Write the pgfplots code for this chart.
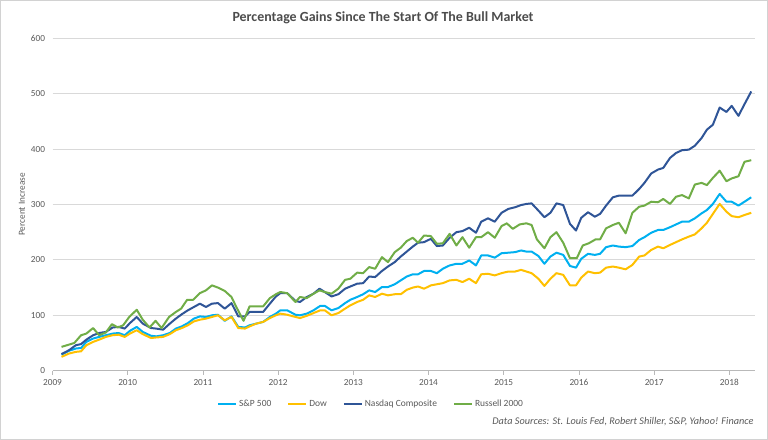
\documentclass[border=0pt]{standalone}
\usepackage{pgfplots}
\pgfplotsset{compat=1.18}
\usepackage{pgfplotstable}
\usepackage{fontspec}
\setmainfont{Carlito}
\definecolor{spc}{HTML}{00B0F0}
\definecolor{dowc}{HTML}{FFC000}
\definecolor{nasc}{HTML}{2F5597}
\definecolor{rusc}{HTML}{70AD47}
\definecolor{txt}{HTML}{595959}
\definecolor{gridc}{HTML}{D9D9D9}
\pgfplotstableread{
x y
2009.12 29
2009.22 36
2009.31 40
2009.38 41
2009.45 52
2009.54 58
2009.62 61
2009.71 64
2009.80 67
2009.88 68
2009.96 64
2010.03 72
2010.12 79
2010.20 70
2010.31 63
2010.38 62
2010.47 64
2010.56 68
2010.64 76
2010.72 80
2010.80 86
2010.88 94
2010.96 98
2011.04 97
2011.12 100
2011.20 101
2011.29 90
2011.38 98
2011.47 79
2011.56 78
2011.62 82
2011.71 85
2011.80 88
2011.89 97
2011.97 103
2012.03 109
2012.12 109
2012.23 101
2012.29 100
2012.38 103
2012.47 109
2012.56 117
2012.62 117
2012.71 109
2012.80 113
2012.89 122
2012.96 128
2013.05 133
2013.13 138
2013.21 145
2013.29 142
2013.38 151
2013.46 151
2013.55 156
2013.63 163
2013.71 170
2013.79 174
2013.86 174
2013.94 180
2014.03 180
2014.11 176
2014.19 184
2014.28 190
2014.37 193
2014.45 193
2014.54 199
2014.63 190
2014.70 208
2014.79 208
2014.88 204
2014.97 212
2015.06 213
2015.15 214
2015.23 217
2015.30 215
2015.37 215
2015.46 207
2015.54 193
2015.62 206
2015.70 213
2015.79 209
2015.88 189
2015.96 186
2016.03 202
2016.12 211
2016.21 209
2016.28 211
2016.36 223
2016.45 226
2016.53 224
2016.62 223
2016.71 225
2016.80 236
2016.87 241
2016.96 249
2017.05 254
2017.12 254
2017.21 259
2017.29 264
2017.37 269
2017.46 269
2017.54 275
2017.63 284
2017.70 290
2017.78 301
2017.87 319
2017.96 305
2018.03 305
2018.12 298
2018.20 305
2018.29 313
}\spdata
\pgfplotstableread{
x y
2009.12 25
2009.22 31
2009.31 34
2009.38 35
2009.45 46
2009.54 52
2009.62 56
2009.71 61
2009.80 64
2009.88 65
2009.96 61
2010.03 67
2010.12 73
2010.20 66
2010.31 59
2010.38 60
2010.47 61
2010.56 66
2010.64 73
2010.72 77
2010.80 82
2010.88 89
2010.96 92
2011.04 94
2011.12 97
2011.20 100
2011.29 91
2011.38 97
2011.47 77
2011.56 76
2011.62 80
2011.71 85
2011.80 88
2011.89 95
2011.97 100
2012.03 103
2012.12 101
2012.23 97
2012.29 95
2012.38 99
2012.47 104
2012.56 109
2012.62 109
2012.71 100
2012.80 104
2012.89 112
2012.96 118
2013.05 124
2013.13 128
2013.21 136
2013.29 133
2013.38 139
2013.46 136
2013.55 138
2013.63 138
2013.71 146
2013.79 150
2013.86 152
2013.94 148
2014.03 154
2014.11 156
2014.19 158
2014.28 163
2014.37 164
2014.45 160
2014.54 166
2014.63 158
2014.70 174
2014.79 175
2014.88 172
2014.97 176
2015.06 179
2015.15 179
2015.23 182
2015.30 179
2015.37 176
2015.46 166
2015.54 153
2015.62 166
2015.70 176
2015.79 173
2015.88 154
2015.96 154
2016.03 168
2016.12 179
2016.21 176
2016.28 177
2016.36 186
2016.45 188
2016.53 186
2016.62 183
2016.71 191
2016.80 206
2016.87 208
2016.96 218
2017.05 224
2017.12 221
2017.21 227
2017.29 232
2017.37 237
2017.46 242
2017.54 246
2017.63 257
2017.70 267
2017.78 283
2017.87 301
2017.96 287
2018.03 279
2018.12 277
2018.20 281
2018.29 285
}\dowdata
\pgfplotstableread{
x y
2009.12 30
2009.22 37
2009.31 46
2009.38 48
2009.45 56
2009.54 64
2009.62 68
2009.71 70
2009.80 78
2009.88 79
2009.96 76
2010.03 86
2010.12 97
2010.20 85
2010.31 77
2010.38 76
2010.47 74
2010.56 85
2010.64 94
2010.72 102
2010.80 109
2010.88 115
2010.96 121
2011.04 115
2011.12 121
2011.20 122
2011.29 112
2011.38 122
2011.47 98
2011.56 98
2011.62 106
2011.71 106
2011.80 106
2011.89 121
2011.97 134
2012.03 140
2012.12 140
2012.23 126
2012.29 124
2012.38 133
2012.47 139
2012.55 148
2012.62 142
2012.71 134
2012.80 138
2012.89 148
2012.96 152
2013.05 157
2013.13 158
2013.21 170
2013.29 169
2013.38 180
2013.46 188
2013.55 196
2013.63 206
2013.71 215
2013.79 224
2013.86 231
2013.94 232
2014.03 238
2014.11 225
2014.19 226
2014.28 240
2014.37 250
2014.45 252
2014.54 258
2014.63 249
2014.70 269
2014.79 275
2014.88 269
2014.97 285
2015.06 292
2015.15 295
2015.23 299
2015.30 301
2015.37 302
2015.46 289
2015.54 277
2015.62 285
2015.70 302
2015.79 299
2015.88 265
2015.96 253
2016.03 276
2016.12 286
2016.21 278
2016.28 283
2016.36 298
2016.45 313
2016.53 316
2016.62 316
2016.71 316
2016.80 328
2016.87 339
2016.96 356
2017.05 363
2017.12 366
2017.21 384
2017.29 393
2017.37 398
2017.46 399
2017.54 406
2017.63 420
2017.70 435
2017.78 444
2017.87 475
2017.96 467
2018.03 478
2018.12 460
2018.20 481
2018.29 504
}\nasdata
\pgfplotstableread{
x y
2009.12 43
2009.29 50
2009.38 64
2009.45 67
2009.54 77
2009.62 64
2009.71 69
2009.79 84
2009.87 78
2009.94 82
2010.02 97
2010.12 110
2010.20 92
2010.29 78
2010.37 90
2010.45 77
2010.55 97
2010.64 106
2010.71 112
2010.79 128
2010.87 128
2010.96 140
2011.04 145
2011.12 154
2011.20 150
2011.29 144
2011.38 133
2011.44 116
2011.54 90
2011.62 116
2011.71 116
2011.80 116
2011.89 131
2011.97 138
2012.03 142
2012.12 140
2012.23 124
2012.29 133
2012.38 131
2012.47 139
2012.55 145
2012.62 142
2012.71 139
2012.80 148
2012.89 164
2012.96 166
2013.05 177
2013.13 176
2013.21 187
2013.29 184
2013.38 205
2013.46 196
2013.55 214
2013.63 222
2013.71 234
2013.79 240
2013.86 231
2013.94 244
2014.03 243
2014.11 229
2014.19 230
2014.28 247
2014.37 226
2014.45 241
2014.54 222
2014.63 241
2014.70 241
2014.79 250
2014.88 240
2014.97 261
2015.04 266
2015.12 256
2015.21 264
2015.30 266
2015.37 263
2015.44 237
2015.54 221
2015.62 241
2015.70 250
2015.79 231
2015.88 203
2015.97 203
2016.05 226
2016.13 230
2016.22 237
2016.28 237
2016.36 257
2016.45 263
2016.53 267
2016.62 248
2016.71 285
2016.80 296
2016.87 298
2016.96 305
2017.05 304
2017.12 310
2017.21 301
2017.29 314
2017.37 317
2017.46 311
2017.54 336
2017.63 339
2017.70 335
2017.78 348
2017.87 361
2017.96 342
2018.03 347
2018.12 351
2018.20 377
2018.29 380
}\rusdata
\begin{document}
\begin{tikzpicture}[x=1bp,y=1bp]
\useasboundingbox (0,0) rectangle (768,440);
\draw[gray!35, line width=0.8bp] (0.5,0.5) rectangle (767.5,439.5);
\node[font=\fontsize{14}{16}\selectfont\bfseries, text=txt!85!black] at (383,422) {Percentage Gains Since The Start Of The Bull Market};
\node[font=\fontsize{10.3}{12}\selectfont\itshape, text=txt, anchor=east] at (757,18) {Data Sources: St. Louis Fed, Robert Shiller, S\&P, Yahoo! Finance};
\begin{axis}[
  at={(52.5bp,69.3bp)}, anchor=south west,
  scale only axis, width=702.5bp, height=332.4bp,
  xmin=2009, xmax=2018.34, ymin=0, ymax=600,
  axis x line*=bottom, axis y line*=left,
  y axis line style={draw=none},
  x axis line style={draw=gray!55, line width=0.8bp},
  xtick={2009,...,2018}, ytick={0,100,...,600},
  xtick style={draw=gray!55, line width=0.8bp},
  tick align=outside, major tick length=4bp,
  ytick style={draw=none},
  ymajorgrids, grid style={draw=gridc, line width=0.8bp},
  /pgf/number format/1000 sep={},
  /pgf/number format/assume math mode=true,
  tick label style={font=\fontsize{9.3}{10}\selectfont, text=txt},
  xticklabel style={yshift=-1bp},
  ylabel={Percent Increase},
  ylabel style={font=\fontsize{9.3}{10}\selectfont, text=txt, at={(axis description cs:-0.0434,0.5)}, anchor=center},
  legend columns=4,
  legend style={at={(axis description cs:0.4534,-0.1)}, anchor=center, draw=none, fill=none,
    font=\fontsize{9.5}{11}\selectfont, text=txt,
    /tikz/every even column/.append style={column sep=14bp}},
  legend image code/.code={\draw[#1] (0bp,0bp) -- (18bp,0bp);},
  every axis plot/.append style={line width=2bp, line join=round},
]
\addplot[spc, no markers] table[x=x,y=y] {\spdata};
\addlegendentry{S\&P 500}
\addplot[dowc, no markers] table[x=x,y=y] {\dowdata};
\addlegendentry{Dow}
\addplot[nasc, no markers] table[x=x,y=y] {\nasdata};
\addlegendentry{Nasdaq Composite}
\addplot[rusc, no markers] table[x=x,y=y] {\rusdata};
\addlegendentry{Russell 2000}
\end{axis}
\end{tikzpicture}
\end{document}
